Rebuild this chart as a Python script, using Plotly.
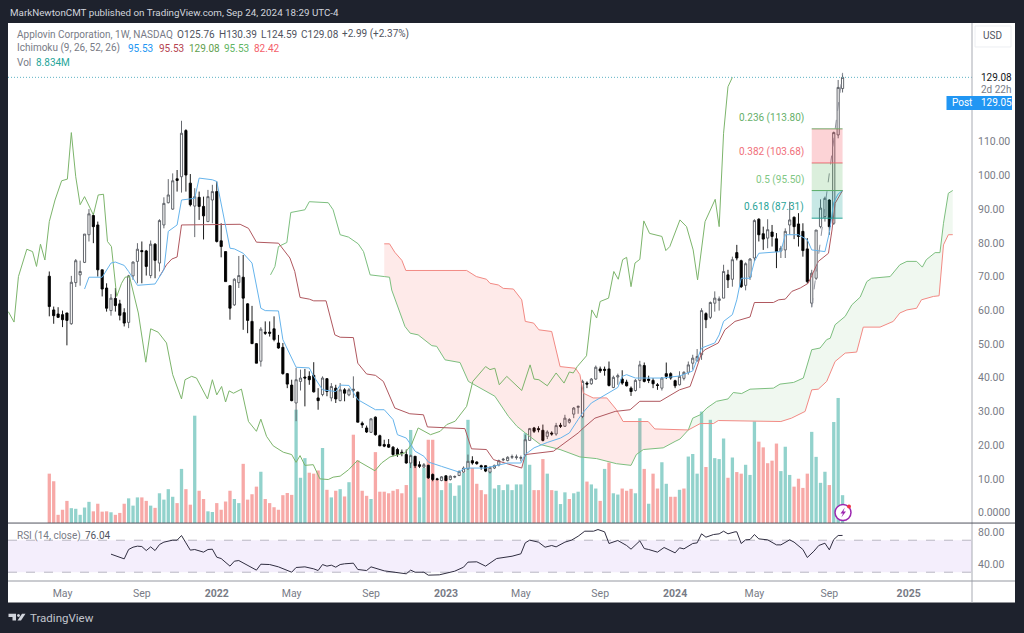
import plotly.graph_objects as go

# all series are indexed by week number, week 0 = 12 Apr 2021
BG = "#1e222d"
FONT = "Roboto"

open_ = [70.1, 60.1, 58.9, 58.7, 59.2, 56.0, 68.2, 70.5, 74.2, 82.4, 88.1, 85.3, 72.0, 66.6, 59.9, 63.5, 61.9, 59.3, 56.4, 70.2,
         74.5, 77.7, 77.6, 70.3, 79.6, 74.0, 85.3, 91.9, 90.0, 99.0, 99.6, 113.3, 97.7, 90.9, 93.5, 90.8, 86.3, 92.7, 95.2, 80.6,
         77.4, 67.3, 61.6, 68.2, 69.8, 61.9, 56.7, 50.1, 44.9, 53.5, 53.5, 54.5, 50.3, 49.0, 41.2, 37.8, 32.5, 38.9, 40.2, 40.4,
         40.7, 34.0, 35.0, 39.7, 34.0, 36.9, 33.2, 36.4, 34.9, 36.2, 35.7, 26.5, 25.1, 23.8, 28.3, 22.8, 20.2, 20.2, 19.4, 18.7,
         17.9, 17.2, 14.7, 16.7, 14.2, 13.5, 14.0, 11.3, 10.0, 9.5, 10.9, 9.8, 10.5, 11.0, 12.0, 13.0, 15.4, 15.0, 13.9, 13.9,
         12.0, 13.2, 14.1, 15.6, 15.4, 16.4, 16.3, 16.1, 17.2, 21.4, 25.1, 24.9, 24.4, 22.6, 23.6, 23.3, 25.9, 25.6, 26.8, 29.2,
         31.2, 28.5, 38.4, 38.2, 39.6, 42.6, 42.5, 42.6, 37.1, 40.2, 39.6, 38.7, 36.9, 36.2, 39.2, 43.6, 39.6, 39.2, 37.9, 36.9,
         41.2, 41.2, 39.1, 37.9, 39.8, 41.6, 44.3, 45.0, 46.8, 59.0, 57.9, 62.1, 62.9, 63.6, 70.5, 69.2, 77.1, 74.7, 67.4, 69.8,
         75.5, 87.0, 82.7, 81.4, 83.2, 81.2, 77.6, 77.9, 85.3, 87.6, 85.6, 83.4, 78.2, 62.1, 69.5, 84.8, 87.8, 92.7, 85.8, 112.0,
         125.76]
high = [71.5, 61.1, 60.9, 59.9, 59.2, 70.2, 75.2, 74.7, 82.6, 90.0, 88.8, 86.3, 72.0, 68.0, 64.8, 66.6, 63.1, 60.6, 70.5, 74.5,
        79.9, 80.4, 77.9, 80.7, 79.9, 87.0, 93.5, 98.9, 100.6, 101.6, 116.2, 113.7, 100.4, 96.2, 95.2, 93.7, 95.7, 97.2, 98.2, 85.8,
        77.4, 67.3, 69.5, 76.1, 76.4, 62.1, 61.3, 50.3, 55.0, 56.7, 56.7, 58.2, 52.7, 50.3, 41.4, 39.4, 42.9, 42.4, 42.6, 41.9,
        44.6, 36.9, 40.4, 39.9, 38.4, 37.9, 38.4, 36.9, 36.9, 40.4, 35.9, 27.0, 25.8, 28.0, 28.5, 23.1, 21.6, 21.8, 19.7, 19.2,
        18.7, 18.7, 17.2, 16.7, 15.2, 14.7, 14.2, 11.6, 10.3, 10.8, 11.0, 11.0, 11.0, 12.5, 13.7, 17.2, 16.7, 15.2, 14.2, 14.0,
        13.7, 14.2, 15.7, 16.2, 16.7, 17.2, 17.2, 16.9, 23.1, 25.1, 25.4, 25.6, 26.1, 24.4, 24.1, 26.6, 26.6, 29.0, 28.0, 31.3,
        31.7, 39.4, 38.9, 39.9, 43.6, 43.3, 43.3, 44.8, 40.6, 41.2, 42.2, 39.4, 37.4, 39.6, 45.0, 44.5, 40.6, 39.9, 38.4, 40.2,
        44.5, 41.6, 39.4, 41.9, 41.9, 44.8, 46.8, 48.5, 60.6, 59.4, 62.6, 65.6, 64.1, 73.5, 72.0, 75.9, 79.4, 75.0, 74.2, 75.5,
        87.0, 87.3, 84.8, 87.0, 85.3, 82.9, 79.1, 84.3, 92.2, 87.8, 88.8, 85.8, 81.4, 72.0, 83.8, 92.9, 93.7, 92.9, 113.0, 128.3,
        130.39]
low = [58.2, 56.0, 57.7, 55.0, 49.6, 55.7, 66.9, 67.3, 74.0, 80.4, 79.9, 70.0, 64.1, 59.6, 58.4, 59.6, 57.0, 55.2, 54.7, 69.0,
       68.0, 68.0, 70.3, 69.5, 69.5, 71.5, 84.3, 91.7, 89.8, 95.2, 94.9, 95.2, 90.8, 81.7, 86.8, 81.0, 86.3, 85.8, 80.1, 75.7,
       68.5, 57.2, 61.3, 66.6, 54.2, 53.2, 50.1, 44.3, 43.3, 52.7, 52.2, 50.8, 48.6, 40.9, 36.9, 33.0, 27.1, 36.2, 31.5, 37.9,
       35.6, 30.5, 34.5, 34.5, 33.0, 32.5, 33.0, 33.0, 34.5, 34.0, 26.8, 25.1, 23.6, 23.6, 22.8, 19.7, 19.4, 19.2, 16.7, 16.5,
       16.7, 14.5, 13.2, 13.2, 13.2, 13.2, 10.0, 9.3, 9.5, 9.3, 9.3, 9.5, 10.2, 10.8, 11.8, 12.7, 14.2, 14.2, 12.7, 12.0,
       11.6, 12.9, 13.7, 15.2, 15.2, 15.9, 15.7, 15.2, 16.7, 21.4, 23.6, 23.8, 21.1, 21.8, 22.8, 22.8, 25.1, 25.4, 26.4, 28.0,
       29.3, 28.0, 36.9, 37.9, 39.4, 41.4, 40.6, 37.4, 36.9, 37.9, 37.9, 37.4, 34.6, 35.9, 36.9, 38.6, 38.4, 36.9, 36.4, 36.2,
       39.6, 39.4, 36.9, 37.7, 39.2, 40.9, 42.4, 44.8, 45.3, 54.7, 57.4, 59.6, 59.9, 63.6, 66.6, 67.0, 74.8, 66.6, 65.9, 69.0,
       74.5, 80.4, 77.9, 78.4, 78.9, 72.5, 75.5, 75.5, 82.4, 81.1, 78.9, 75.9, 68.0, 60.9, 69.0, 84.3, 86.3, 82.4, 85.3, 111.0,
       124.59]
close = [61.1, 58.4, 57.9, 57.2, 57.0, 68.3, 74.7, 71.5, 82.6, 88.6, 84.8, 72.0, 66.3, 60.6, 63.6, 61.4, 58.5, 56.2, 70.2, 74.3,
         78.1, 77.4, 73.0, 79.6, 74.8, 86.6, 91.7, 94.2, 98.4, 98.5, 112.5, 100.1, 91.3, 93.7, 90.8, 88.0, 93.7, 95.2, 80.4, 78.9,
         68.5, 60.6, 69.2, 70.3, 63.6, 57.0, 50.1, 44.3, 54.4, 53.2, 53.2, 51.3, 48.8, 41.2, 38.1, 33.2, 39.4, 39.9, 39.9, 39.4,
         35.8, 33.2, 39.9, 35.9, 37.4, 33.7, 36.4, 35.4, 36.4, 36.6, 26.8, 26.0, 23.9, 27.8, 23.1, 19.8, 19.7, 19.4, 17.2, 17.2,
         17.5, 14.7, 16.9, 13.9, 13.7, 14.2, 10.3, 9.8, 9.8, 10.6, 9.5, 10.8, 10.7, 12.2, 13.2, 15.2, 14.7, 14.5, 13.5, 12.3,
         13.4, 14.0, 15.4, 15.8, 16.4, 16.6, 16.5, 16.3, 21.6, 24.9, 24.1, 24.6, 21.4, 23.9, 23.3, 25.8, 25.6, 28.0, 27.6, 31.0,
         31.5, 38.9, 38.1, 39.6, 43.1, 42.0, 42.2, 37.7, 40.1, 40.6, 38.4, 37.6, 35.9, 39.2, 43.8, 38.9, 39.2, 38.2, 37.7, 39.9,
         40.4, 39.9, 37.6, 40.4, 41.6, 43.8, 45.8, 46.3, 59.9, 57.2, 62.3, 63.6, 63.4, 71.5, 69.0, 75.0, 75.5, 67.0, 73.8, 75.2,
         86.6, 82.4, 81.1, 83.9, 81.9, 77.4, 78.4, 83.4, 86.8, 84.8, 81.9, 77.7, 68.5, 71.0, 83.8, 90.3, 93.2, 84.8, 112.7, 126.09,
         129.08]

# volume in millions
volume = [15.6, 13.2, 2.6, 4.2, 7.0, 4.7, 4.5, 2.6, 4.9, 6.7, 3.7, 6.1, 3.6, 3.7, 3.4, 2.6, 3.2, 6.1, 7.8, 5.5,
          8.1, 8.1, 7.0, 5.5, 4.8, 9.4, 7.4, 10.7, 8.3, 6.3, 17.1, 10.7, 5.8, 33.9, 10.2, 7.6, 3.7, 3.5, 6.3, 4.2,
          6.8, 10.2, 7.6, 6.3, 18.7, 7.4, 9.1, 11.5, 16.2, 7.6, 6.3, 5.0, 4.2, 8.8, 9.5, 8.9, 35.8, 14.3, 20.5, 15.9,
          15.6, 16.6, 23.7, 10.5, 8.1, 10.2, 10.7, 8.4, 12.9, 27.9, 19.8, 10.2, 8.6, 7.6, 22.4, 9.9, 9.9, 9.4, 10.2, 10.7,
          9.4, 12.0, 29.4, 20.0, 8.1, 17.4, 26.3, 26.3, 13.7, 10.4, 14.2, 12.6, 8.6, 11.9, 15.8, 32.6, 17.4, 12.4, 10.4, 9.1,
          16.3, 10.9, 12.0, 10.4, 12.2, 10.4, 12.2, 12.2, 28.4, 18.4, 10.4, 10.4, 20.2, 15.6, 10.4, 10.2, 6.0, 9.7, 7.6, 9.4,
          9.9, 43.0, 13.1, 12.2, 10.9, 7.0, 17.1, 19.1, 9.4, 9.0, 10.9, 10.2, 10.8, 9.4, 33.1, 17.1, 6.1, 15.6, 10.9, 19.2,
          12.4, 8.3, 8.3, 10.5, 10.9, 21.0, 21.8, 15.6, 35.2, 17.7, 32.6, 20.5, 20.2, 26.7, 14.3, 20.7, 16.1, 15.6, 18.4, 15.2,
          32.1, 25.7, 23.9, 18.9, 19.7, 25.1, 16.4, 24.1, 15.2, 11.5, 14.0, 11.1, 15.6, 28.8, 20.9, 12.7, 16.2, 12.0, 31.9, 39.5,
          8.8]
up_vol_weeks = [5, 6, 7, 8, 9, 14, 18, 19, 20, 23, 25, 26, 27, 28, 30, 33, 36, 37, 42, 43, 48, 56, 57, 58, 62, 64, 66, 68, 73,
                82, 84, 85, 89, 91, 92, 93, 94, 95, 100, 101, 102, 103, 104, 105, 106, 107, 108, 109, 113, 115, 116, 117, 119,
                120, 121, 123, 124, 126, 128, 129, 133, 134, 136, 139, 140, 143, 145, 146, 147, 148, 150, 151, 152, 153, 155,
                158, 159, 160, 166, 167, 168, 173, 174, 175, 176, 178, 179, 180]

tenkan_wk = [8, 9, 12, 13, 14, 15, 17, 18, 20, 24, 26, 27, 29, 30, 33, 34, 37, 38, 39, 41, 42, 44, 46, 48, 49, 52, 53, 56, 59, 60,
             62, 65, 66, 68, 70, 74, 76, 78, 79, 81, 82, 83, 85, 86, 89, 93, 94, 95, 99, 102, 104, 107, 108, 110, 113, 116, 118,
             120, 121, 123, 127, 129, 130, 131, 133, 139, 143, 146, 148, 151, 152, 153, 155, 156, 157, 159, 160, 161, 166, 167,
             170, 172, 173, 176, 177, 178, 179, 180]
tenkan = [66.3, 69.8, 69.8, 72, 74, 74.3, 73.3, 71.5, 67.4, 67.8, 72, 83.4, 85.3, 92.7, 93.2, 99.2, 98.7, 98.2, 91.7, 78.4, 78.2,
          76.9, 74, 60.6, 59.9, 59.8, 51.3, 43.1, 42.9, 40.4, 36.4, 35.9, 37.8, 37.7, 33.5, 30.5, 30.5, 27.6, 23.1, 22.1, 20.2,
          18.2, 16.7, 15, 13.7, 12, 13, 13.2, 13.2, 14.2, 14.7, 14.7, 17.2, 19.2, 20.8, 22.1, 23.6, 27.6, 29.5, 32.5, 35.4, 37.1,
          40.4, 40.9, 39.9, 39.9, 40.5, 42, 48.8, 50.3, 52.7, 56.7, 58.7, 63.1, 69.5, 69.5, 74.5, 76.9, 77.4, 82.4, 82.4, 80.9,
          77.9, 77.4, 83, 92, 94.5, 95.53]

kijun_wk = [25, 26.6, 27.8, 29, 30, 43.3, 45.2, 47, 52, 54.6, 55.7, 56.9, 59, 60, 62.8, 64.8, 66, 69, 70, 72, 74, 75.8, 78.4, 81.8,
            84.9, 85.8, 94.3, 95.8, 99.2, 100.8, 107.2, 108, 114.4, 120, 121.2, 123.8, 128.4, 131.8, 134, 138.6, 143, 145.4, 146.5,
            148, 148.8, 151.8, 153.3, 155.6, 159, 160, 164.3, 165.5, 167, 168.5, 170.4, 172.2, 174.5, 176.8, 177.6, 178.3, 180]
kijun = [70, 73.5, 75.2, 75.8, 85.3, 85.5, 84.3, 80.2, 79.9, 75.5, 71.5, 63.8, 63.3, 62.8, 62.8, 52.7, 52, 51.9, 44.3, 41.1, 40.7,
         38.9, 31, 29.3, 29, 25.4, 24.9, 18.9, 18.7, 15.7, 13.2, 17.2, 18.2, 23.6, 25.1, 28, 30, 30.5, 33, 33, 36.4, 37.4, 41.4,
         47.3, 48.3, 50.3, 54.2, 56.7, 58, 62.3, 62.3, 63.1, 63.3, 65.6, 66.6, 68, 74.5, 76.9, 83.8, 91.7, 95.53]

chikou_wk = [-9.3, -8, -7, -5.1, -3.8, -2.9, -2, -1, 0, 1.3, 2.8, 4.1, 5, 6, 7, 8, 10, 11.1, 12.3, 13.2, 14.1, 15.3, 16.4, 17.2, 18.2,
             20.2, 21.9, 23, 24.7, 26.6, 28, 30, 30.8, 32.3, 33.4, 35.9, 37, 38, 39.1, 40, 40.8, 41.8, 43.6, 45.2, 47, 48, 49.3,
             50.8, 53.1, 55, 56, 56.9, 58, 59.9, 61.4, 63.3, 64.4, 66, 67.9, 69.9, 73.9, 75.4, 77.3, 80.7, 82.2, 83.7, 86.5, 88.7,
             90.2, 92.1, 94.7, 96.1, 99, 100, 101.1, 102.1, 103.8, 107.2, 109.1, 110, 111.1, 113, 115, 116.8, 118, 118.9, 119.8,
             121.9, 123.1, 124.2, 125, 126.9, 128.1, 129.1, 130.1, 131, 132, 132.9, 134, 134.9, 136.2, 139, 139.9, 140.8, 143.1,
             144.6, 146.1, 147.1, 148.8, 151.1, 152, 153, 154, 155]
chikou = [59.6, 56.5, 70, 78.1, 77.4, 73, 79.6, 74.9, 86.3, 92.7, 98.4, 98.9, 112.7, 99.6, 91.3, 93.7, 88.3, 94.2, 94.4, 80.4, 78.9,
          64.1, 68, 69.8, 70, 59.2, 44.6, 54.5, 53.5, 50.3, 40.9, 33.7, 39.4, 40.4, 39.9, 33.7, 39.4, 34.9, 37.4, 32.8, 36.1, 35.4,
          36.6, 27, 24.1, 27.7, 22.6, 19.8, 17.9, 17.2, 14.9, 16.9, 14, 14.2, 10, 9.8, 10.5, 10.8, 12.7, 15.4, 12.4, 14.7, 16.5,
          17.7, 20.2, 25.1, 23.1, 24.1, 26.1, 27.1, 31.5, 38.9, 43.3, 42.4, 42.8, 37.9, 40.4, 36.2, 43.8, 39.6, 39.4, 37.6, 41.4,
          38.4, 41.7, 41.4, 43.3, 46.5, 60.1, 57.7, 62.6, 63.6, 71.5, 69.2, 75, 75.7, 67, 74, 75.1, 86.5, 82.8, 81.9, 77.7, 78.9,
          86.8, 84.8, 77.9, 69, 86.3, 92.9, 84.8, 112.5, 126.3, 129.08]

senkou_a_wk = [50.2, 51.2, 52, 53.9, 54.8, 58, 59, 63.3, 64.4, 66, 67.9, 70.1, 71.3, 72.8, 76, 77.2, 77.7, 80.7, 81.9, 83.7, 86.8,
               87.9, 89.8, 93.2, 95.1, 98.5, 101.1, 104.2, 106.1, 108, 111.4, 115.9, 120.4, 124.2, 128.7, 132, 133.2, 134.8,
               139.3, 142, 143.1, 145, 146, 147.7, 149.2, 151.4, 154, 155.2, 157.1, 159, 164.3, 165.8, 168.9, 171.1, 173, 174.9,
               176.4, 177.2, 178.3, 180.6, 182.1, 184, 185.5, 186.6, 190.8, 193, 194.6, 196.8, 198.1, 199, 201, 202.1, 202.9, 204, 205]
senkou_a = [70.5, 73, 78.9, 80.1, 89, 89.8, 92.2, 91.9, 89.8, 82.4, 81.7, 79.7, 77.4, 70.5, 70, 69.8, 66, 55.2, 53.2, 52.7, 49.5,
            49.3, 45.3, 44.5, 38.9, 36.4, 34.5, 28.5, 25.6, 23.6, 20.2, 18.7, 16.5, 16, 14.5, 14, 17.2, 18.7,
            19.2, 21.1, 21.8, 24.5, 28, 29, 31, 33, 33.7, 35.6, 35.3, 36.6, 36.9, 38.1, 38.6, 39.9, 48.3, 48.8,
            51.3, 51.7, 55.7, 58.2, 61.6, 63.9, 68.5, 69.5, 70, 73.5, 74.5, 74.5, 72.8, 75, 77.1, 77.1, 85.8, 94.7, 95.53]

senkou_b_wk = [76, 77.2, 78.4, 80, 80.9, 94.7, 96.9, 99.2, 100, 101.9, 103, 105.3, 107.2, 108, 109.9, 111.1, 114, 115.9, 119.4, 120.4,
               121.2, 123.4, 126.5, 128.7, 130.2, 135.9, 137.4, 143.1, 145, 147.7, 150.7, 151.8, 166, 168.4, 171.5, 173, 174.5,
               176.4, 178.3, 180.6, 183.2, 184.7, 188.5, 191.5, 193, 194.6, 196.8, 197.9, 200.6, 201.9, 202.9, 204, 205]
senkou_b = [79.7, 79.7, 77.2, 74.8, 71.8, 71.8, 70, 69.2, 68, 67.5, 66.5, 66.3, 63.1, 56.7, 56.2, 54.2, 53.7, 43.3, 42.8, 40.9,
            35.4, 34, 34, 30.5, 27, 27, 24.8, 24.6, 24.5, 26.4, 26.4, 27.3, 27, 28, 30, 36.4, 36.6,
            38.9, 44.8, 47.3, 47.6, 55, 55, 56.7, 59.2, 60.1, 60.6, 63.1, 64.1, 64.3, 79.4, 82.4, 82.42]
cloud_start, cloud_cross, cloud_end = 76, 145, 205

rsi_wk = [14, 17, 18, 19, 20, 21, 22, 23, 24, 25, 26, 28, 29, 30, 31, 32, 33, 35, 36, 37, 38, 39, 41, 42, 43, 45, 47, 48, 50, 52,
          54, 55, 56, 58, 60, 61, 62, 63, 64, 65, 66, 67, 69, 70, 72, 73, 76, 78, 81, 82, 83, 85, 86, 88.5, 90, 92, 94, 95, 97, 99,
          101.5, 105, 107, 108, 109, 111, 112.5, 114, 115, 117, 118.5, 120, 121.5, 123.5, 124.5, 126, 127, 129, 131, 132, 134,
          135, 136, 138, 139.5, 142, 143, 144, 146, 147, 148, 149, 150.7, 152, 153, 154, 155.6, 156, 157, 158, 159, 160, 161,
          163, 165, 166, 168, 169, 171, 172, 173.5, 174.6, 176, 177, 178, 179, 180]
rsi = [52.6, 46.7, 58.4, 61.3, 62.6, 62.1, 57.1, 61.7, 57.1, 64.6, 67.6, 70.1, 70.1, 75.9, 66.7, 57.6, 58.4, 55.1, 58.4, 58.8, 48.8,
       47.1, 37.6, 43.8, 44.6, 38.8, 32.6, 40, 39.6, 36.7, 32.1, 30, 35.9, 36.7, 34.2, 32.1, 39.6, 37.6, 38.8, 36.3, 39.6, 40.5,
       41.3, 33.4, 32.1, 36.7, 31.7, 30, 28, 32.6, 30, 30, 26.3, 26.7, 28.4, 31.3, 36.3, 42.6, 43, 37.6, 47.1, 50, 53, 66.7, 70.1,
       67.6, 61.3, 63.4, 61.7, 67.6, 70.1, 75, 81.3, 81.3, 83.4, 80.5, 65.9, 69.7, 63.4, 58.8, 69.2, 59.6, 58.4, 55.1, 60.9, 54.2,
       60.5, 59.2, 65.9, 66.7, 78, 73.8, 77.1, 78, 81.3, 78, 80.5, 80.5, 65.9, 70.5, 70.9, 77.1, 71.7, 70.5, 64.2, 64.2, 70.5, 67.6,
       58.4, 48.4, 56.3, 63.4, 66.3, 58, 70.9, 75.9, 76.04]
rsi_band = [30, 70]

fib_wk = [173, 180]
fib_prices = [113.80, 103.68, 95.50, 87.31]
fib_names = ["0.236", "0.382", "0.5", "0.618"]
fib_lines = ["#66b06a", "#f0707a", "#66b06a", "#2aa498"]
fib_text = ["#66b06a", "#f0707a", "#81c784", "#2aa498"]
fib_fills = ["rgba(242,54,69,0.22)", "rgba(76,175,80,0.2)", "rgba(0,150,136,0.22)"]
swing_wk = [173, 180]
swing = [60.9, 130.39]
last_close = 129.08

price_ticks = [0, 10, 20, 30, 40, 50, 60, 70, 80, 90, 100, 110]
price_labels = ["0.0000", "10.00", "20.00", "30.00", "40.00", "50.00", "60.00", "70.00", "80.00", "90.00", "100.00", "110.00"]
rsi_ticks = [40, 80]
rsi_labels = ["40.00", "80.00"]
time_ticks = [3, 21, 38, 55, 73, 90, 107, 125, 142, 160, 177, 195]
time_labels = ["May", "Sep", "<b>2022</b>", "May", "Sep", "<b>2023</b>", "May", "Sep", "<b>2024</b>", "May", "Sep", "<b>2025</b>"]


# pixel position -> paper fraction, the plot area spans 8..972 x 23..581.5
def px(x):
    return (x - 8) / 964


def py(y):
    return (581.5 - y) / 558.5


def label(x, y, text, color="#787b86", size=10, anchor="left"):
    return dict(xref="paper", yref="paper", x=px(x), y=py(y), text=text, showarrow=False, xanchor=anchor, yanchor="middle",
                font=dict(family=FONT, size=size, color=color))


def pxpath(points):
    return "M" + " L".join(f"{px(a):.5f} {py(b):.5f}" for a, b in points) + " Z"


def paper_rect(x0, y0, x1, y1, fill, line=None, layer="below"):
    return dict(type="rect", xref="paper", yref="paper", x0=px(x0), x1=px(x1), y0=py(y0), y1=py(y1), fillcolor=fill,
                line=dict(color=line or fill, width=1 if line else 0), layer=layer)


def paper_line(x0, y0, x1, y1, color, width=1):
    return dict(type="line", xref="paper", yref="paper", x0=px(x0), x1=px(x1), y0=py(y0), y1=py(y1),
                line=dict(color=color, width=width), layer="above")


weeks = list(range(len(close)))
red_a = [(w, v) for w, v in zip(senkou_a_wk, senkou_a) if cloud_start <= w <= cloud_cross]
red_b = [(w, v) for w, v in zip(senkou_b_wk, senkou_b) if cloud_start <= w <= cloud_cross]
green_a = [(w, v) for w, v in zip(senkou_a_wk, senkou_a) if cloud_cross <= w <= cloud_end]
green_b = [(w, v) for w, v in zip(senkou_b_wk, senkou_b) if cloud_cross <= w <= cloud_end]
red_poly = red_b + red_a[::-1]
green_poly = green_a + green_b[::-1]

fig = go.Figure()

vol_colors = ["#92d2cc" if w in up_vol_weeks else "#f7a9a7" for w in weeks]
fig.add_trace(go.Bar(x=weeks, y=volume, marker=dict(color=vol_colors, line=dict(width=0)), xaxis="x", yaxis="y"))

fig.add_trace(go.Candlestick(x=weeks, open=open_, high=high, low=low, close=close, xaxis="x", yaxis="y2",
                             increasing=dict(line=dict(color="#55585f", width=0.9), fillcolor="#ffffff"),
                             decreasing=dict(line=dict(color="#000000", width=0.9), fillcolor="#000000"),
                             whiskerwidth=0))

for poly, fill in [(red_poly, "rgba(244,67,54,0.11)"), (green_poly, "rgba(76,175,80,0.085)")]:
    fig.add_trace(go.Scatter(x=[p[0] for p in poly], y=[p[1] for p in poly], mode="lines", fill="toself", fillcolor=fill,
                             line=dict(width=0), xaxis="x", yaxis="y2"))

lines = [(senkou_a_wk, senkou_a, "#7dbf7f"), (senkou_b_wk, senkou_b, "#f28a84"), (chikou_wk, chikou, "#7db56c"),
         (kijun_wk, kijun, "#b0585f"), (tenkan_wk, tenkan, "#66b4ec")]
for xs, ys, color in lines:
    fig.add_trace(go.Scatter(x=xs, y=ys, mode="lines", line=dict(color=color, width=1), xaxis="x", yaxis="y2"))

fig.add_trace(go.Scatter(x=swing_wk, y=swing, mode="lines", line=dict(color="#8f929c", width=1, dash="dash"), xaxis="x", yaxis="y2"))
fig.add_trace(go.Scatter(x=rsi_wk, y=rsi, mode="lines", line=dict(color="#2f2d40", width=1), xaxis="x", yaxis="y3"))

shapes = [
    paper_rect(8, 23, 1015, 603, "#ffffff"),
    dict(type="rect", xref="paper", yref="y3", x0=0, x1=1, y0=rsi_band[0], y1=rsi_band[1], fillcolor="#f4eefc",
         line=dict(width=0), layer="below"),
    dict(type="line", xref="paper", yref="y2", x0=0, x1=1, y0=last_close, y1=last_close,
         line=dict(color="#5fb3c4", width=1, dash="1px,2px"), layer="above"),
    paper_line(972, 23, 972, 603, "#a8abb3"),
    paper_line(8, 523.5, 1015, 523.5, "#50535e"),
    paper_line(8, 581.5, 1015, 581.5, "#9598a1"),
    paper_rect(975, 26, 1011, 47, "#ffffff", line="#eceef2", layer="above"),
    paper_rect(946.5, 96, 1012, 110, "#2196f3", layer="above"),
    dict(type="path", xref="paper", yref="paper", fillcolor="#d1d4dc", line=dict(width=0), layer="above",
         path=pxpath([(8.5, 614.3), (16, 614.3), (16, 621), (12.5, 621), (12.5, 617.5), (8.5, 617.5)])),
    dict(type="path", xref="paper", yref="paper", fillcolor="#d1d4dc", line=dict(width=0), layer="above",
         path=pxpath([(22, 614.3), (25.5, 614.3), (21, 621), (17.5, 621)])),
    dict(type="circle", xref="paper", yref="paper", x0=px(17), x1=px(20), y0=py(617.5), y1=py(614.5), fillcolor="#d1d4dc",
         line=dict(width=0), layer="above"),
    dict(type="circle", xref="paper", yref="paper", x0=px(835), x1=px(851), y0=py(521), y1=py(505), fillcolor="#ffffff",
         line=dict(color="#9c27b0", width=1.5), layer="above"),
    dict(type="path", xref="paper", yref="paper", fillcolor="#9c27b0", line=dict(width=0), layer="above",
         path=pxpath([(844.8, 508), (840.5, 514), (843, 514), (841.3, 518), (846, 512), (843.4, 512)])),
    dict(type="circle", xref="paper", yref="paper", x0=px(847), x1=px(851), y0=py(509), y1=py(505), fillcolor="#f23645",
         line=dict(width=0), layer="above"),
]
for k in rsi_band:
    shapes.append(dict(type="line", xref="paper", yref="y3", x0=0, x1=1, y0=k, y1=k, line=dict(color="#b9b6c2", width=1, dash="dash"), layer="below"))
for level, color in zip(fib_prices, fib_lines):
    shapes.append(dict(type="line", xref="x", yref="y2", x0=fib_wk[0], x1=fib_wk[1], y0=level, y1=level, line=dict(color=color, width=1)))
for top, bottom, fill in zip(fib_prices, fib_prices[1:], fib_fills):
    shapes.append(dict(type="rect", xref="x", yref="y2", x0=fib_wk[0], x1=fib_wk[1], y0=bottom, y1=top, fillcolor=fill, line=dict(width=0)))

annotations = [
    label(8, 12, "MarkNewtonCMT published on TradingView.com, Sep 24, 2024 18:29 UTC-4", "#d1d4dc", size=9.8),
    label(15, 34.5, "Applovin Corporation, 1W, NASDAQ"),
    label(175, 34.5, "O125.76", "#50535e"),
    label(216.5, 34.5, "H130.39", "#50535e"),
    label(259, 34.5, "L124.59", "#50535e"),
    label(299, 34.5, "C129.08", "#50535e"),
    label(340, 34.5, "+2.99 (+2.37%)", "#50535e"),
    label(15, 48.5, "Ichimoku (9, 26, 52, 26)"),
    label(126, 48.5, "95.53", "#2196f3"),
    label(157, 48.5, "95.53", "#b5434f"),
    label(187, 48.5, "129.08", "#5fa04e"),
    label(222, 48.5, "95.53", "#5fb563"),
    label(252, 48.5, "82.42", "#f4606a"),
    label(15, 62.5, "Vol"),
    label(34, 62.5, "8.834M", "#26a69a"),
    label(15, 536, "RSI (14, close)"),
    label(83, 536, "76.04", "#50535e"),
    label(993, 36, "USD", "#50535e", anchor="center"),
    label(979, 77.5, "129.08", "#131722"),
    label(979, 89.5, "2d 22h"),
    label(950, 103, "Post", "#ffffff"),
    label(979, 103, "129.05", "#ffffff"),
    label(27.5, 619, "TradingView", "#c3c6ce", size=11.5),
]
for price, name, color in zip(fib_prices, fib_names, fib_text):
    annotations.append(dict(xref="x", yref="y2", x=fib_wk[0], y=price, text=f"{name} ({price:.2f})", showarrow=False, xanchor="right",
                            yanchor="bottom", xshift=-6, yshift=3, font=dict(family=FONT, size=10, color=color)))

fig.update_layout(
    width=1024, height=633, autosize=False, showlegend=False, barmode="overlay", bargap=0.25, hovermode=False,
    paper_bgcolor=BG, plot_bgcolor="rgba(0,0,0,0)",
    margin=dict(l=8, r=52, t=23, b=51.5, pad=0),
    font=dict(family=FONT, size=10, color="#787b86"),
    shapes=shapes, annotations=annotations,
    xaxis=dict(domain=[0, 1], range=[-9.37, 209.37], anchor="y3", showgrid=False, zeroline=False, showline=False,
               tickmode="array", tickvals=time_ticks, ticktext=time_labels, ticks="", rangeslider=dict(visible=False),
               tickfont=dict(family=FONT, size=10.5, color="#787b86"), ticklabelstandoff=4),
    yaxis=dict(domain=[(581.5 - 523.5) / 558.5, 1], range=[0, 157.9], anchor="x", visible=False),
    yaxis2=dict(overlaying="y", side="right", range=[-3.11, 145.2], anchor="x", showgrid=False, zeroline=False, showline=False,
                tickmode="array", tickvals=price_ticks, ticktext=price_labels, ticks="", ticklabelstandoff=5,
                tickfont=dict(family=FONT, size=10.5, color="#787b86")),
    yaxis3=dict(domain=[0, (581.5 - 523.5) / 558.5], range=[19.0, 91.5], anchor="x", side="right", showgrid=False, zeroline=False,
                showline=False, tickmode="array", tickvals=rsi_ticks, ticktext=rsi_labels, ticks="", ticklabelstandoff=5,
                tickfont=dict(family=FONT, size=10.5, color="#787b86")),
)

# the default body margin would push the chart 8px off the window
fig.write_html("out.html", config=dict(displayModeBar=False), post_script="document.body.style.margin='0';")
